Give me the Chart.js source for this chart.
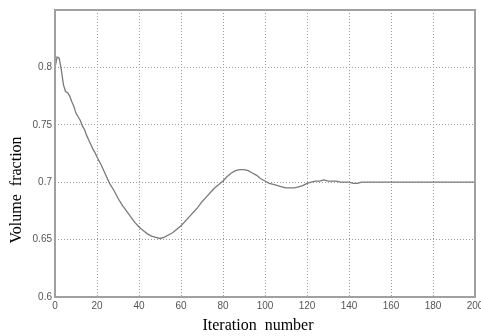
<!DOCTYPE html>
<html>
<head>
<meta charset="utf-8">
<script src="https://cdn.jsdelivr.net/npm/chart.js@4/dist/chart.umd.min.js"></script>
<style>
  html, body { margin: 0; padding: 0; background: #fff; }
  #wrap { width: 481px; height: 336px; }
</style>
</head>
<body>
<div id="wrap"><canvas id="chart_volume"></canvas></div>
<script>
var iterations = [0, 1, 2, 3, 4, 5, 6, 7, 8, 9, 10, 11, 12, 13, 14, 15, 16, 17, 18, 19, 20,
  22, 24, 26, 28, 30, 32, 34, 36, 38, 40, 42, 44, 46, 48, 50, 52, 54, 56, 58, 60,
  62, 64, 66, 68, 70, 72, 74, 76, 78, 80, 82, 84, 86, 88, 90, 92, 94, 96, 98, 100,
  102, 104, 106, 108, 110, 112, 114, 116, 118, 120, 122, 124, 126, 128, 130, 132, 134, 136, 138, 140,
  142, 144, 146, 148, 160, 180, 200];
var volume_fraction = [0.800, 0.809, 0.808, 0.798, 0.785, 0.779, 0.778, 0.775, 0.770, 0.766, 0.760,
  0.757, 0.754, 0.749, 0.746, 0.741, 0.737, 0.733, 0.729, 0.726, 0.722,
  0.715, 0.707, 0.699, 0.693, 0.686, 0.680, 0.675, 0.670, 0.665, 0.661,
  0.658, 0.655, 0.653, 0.652, 0.651, 0.652, 0.654, 0.656, 0.659, 0.662,
  0.666, 0.670, 0.674, 0.678, 0.683, 0.687, 0.691, 0.695, 0.698, 0.701,
  0.705, 0.708, 0.710, 0.711, 0.711, 0.710, 0.708, 0.706, 0.703, 0.701,
  0.699, 0.698, 0.697, 0.696, 0.695, 0.695, 0.695, 0.696, 0.697, 0.699,
  0.700, 0.701, 0.701, 0.702, 0.701, 0.701, 0.701, 0.700, 0.700, 0.700,
  0.699, 0.699, 0.700, 0.700, 0.700, 0.700, 0.700];
var x_label = 'Iteration  number';
var y_label = 'Volume  fraction';
var line_color = '#7a7a7a';
var grid_color = '#9a9a9a';
var frame_color = '#a0a0a0';

var points = iterations.map(function (it, i) { return { x: it, y: volume_fraction[i] }; });

// box round the plot plus the two axis titles
var framePlugin = {
  id: 'frame',
  afterDraw: function (chart) {
    var ctx = chart.ctx;
    var a = chart.chartArea;
    ctx.save();
    ctx.strokeStyle = frame_color;
    ctx.lineWidth = 2;
    ctx.strokeRect(a.left, a.top, a.right - a.left, a.bottom - a.top);
    ctx.fillStyle = '#000';
    ctx.font = '16px "Liberation Serif", "Times New Roman", serif';
    ctx.textAlign = 'center';
    ctx.textBaseline = 'middle';
    ctx.fillText(x_label, 258, 326);
    ctx.translate(17, 190);
    ctx.rotate(-Math.PI / 2);
    ctx.fillText(y_label, 0, 0);
    ctx.restore();
  }
};

var tick_font = { family: 'Arial, "Liberation Sans"', size: 10 };

function make_chart() {
  var ctx = document.getElementById('chart_volume').getContext('2d');
  new Chart(ctx, {
    type: 'line',
    data: {
      datasets: [{
        data: points,
        borderColor: line_color,
        borderWidth: 1.3,
        pointRadius: 0,
        tension: 0,
        fill: false
      }]
    },
    options: {
      responsive: true,
      maintainAspectRatio: false,
      animation: false,
      layout: { padding: { top: 10, right: 6, left: 0, bottom: 0 } },
      plugins: { legend: { display: false }, tooltip: { enabled: false } },
      scales: {
        x: {
          type: 'linear',
          min: 0,
          max: 200,
          afterFit: function (s) { s.height = 39; s.paddingLeft = 0; s.paddingRight = 0; },
          border: { display: false, dash: [1, 2] },
          grid: { color: grid_color, drawTicks: false },
          ticks: { stepSize: 20, padding: 3, color: '#555', font: tick_font, maxRotation: 0 }
        },
        y: {
          min: 0.6,
          max: 0.85,
          afterFit: function (s) { s.width = 55; },
          border: { display: false, dash: [1, 2] },
          grid: { color: grid_color, drawTicks: false },
          ticks: {
            stepSize: 0.05,
            padding: 3,
            color: '#555',
            font: tick_font,
            callback: function (v) { return v > 0.81 ? '' : String(Math.round(v * 100) / 100); }
          }
        }
      }
    },
    plugins: [framePlugin]
  });
}

make_chart();
</script>
</body>
</html>
